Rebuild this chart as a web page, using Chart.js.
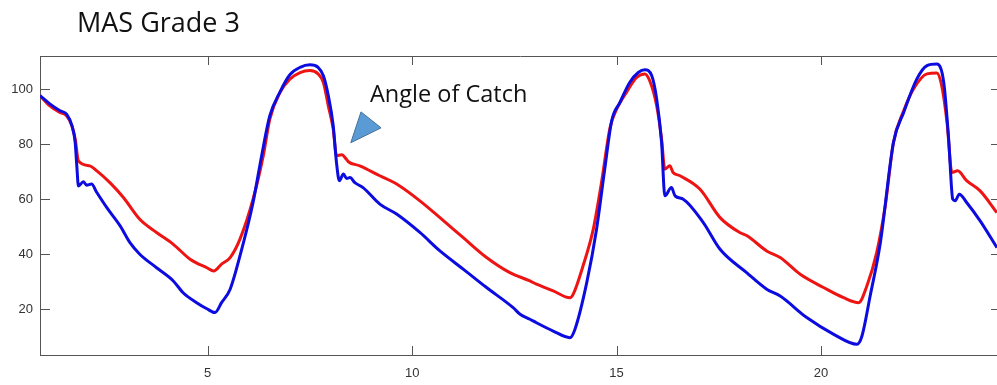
<!DOCTYPE html>
<html>
<head>
<meta charset="utf-8">
<script src="https://cdn.jsdelivr.net/npm/chart.js@4.4.1/dist/chart.umd.min.js"></script>
<style>
  html, body { margin: 0; padding: 0; background: #fff; overflow: hidden; }
  #wrap { width: 997px; height: 385px; overflow: hidden; }
</style>
</head>
<body>
<div id="wrap"><canvas id="angleChart" width="1010" height="385"></canvas></div>
<script>
// Curva vermelha (tempo, ângulo)
const redX = [0.90, 1.14, 1.39, 1.55, 1.68, 1.76, 1.84, 2.12, 2.29, 2.61, 2.94, 3.34, 3.75, 4.16, 4.57, 4.98, 5.15, 5.34, 5.55, 5.79, 6.11, 6.36, 6.52, 6.77, 7.01, 7.26, 7.50, 7.70, 7.83, 7.95, 8.07, 8.15, 8.28, 8.36, 8.44, 8.72, 9.21, 9.62, 10.19, 10.68, 11.25, 11.82, 12.39, 12.88, 13.04, 13.45, 13.86, 13.94, 14.18, 14.43, 14.63, 14.84, 15.00, 15.24, 15.49, 15.69, 15.81, 15.98, 16.10, 16.18, 16.30, 16.38, 16.55, 17.04, 17.53, 18.01, 18.19, 18.67, 19.00, 19.49, 20.06, 20.55, 20.92, 21.12, 21.36, 21.57, 21.77, 22.02, 22.26, 22.59, 22.83, 22.95, 23.08, 23.20, 23.34, 23.56, 23.89, 24.30];
const redY = [97.6, 93.9, 91.5, 90.3, 86.7, 81.9, 73.9, 72.1, 70.3, 66.0, 60.6, 52.7, 47.9, 43.6, 38.2, 35.1, 33.9, 36.4, 38.8, 45.5, 60.0, 75.8, 89.1, 98.8, 103.6, 106.0, 106.7, 105.5, 102.4, 93.9, 85.5, 75.8, 76.1, 75.1, 73.6, 72.1, 68.5, 65.5, 59.4, 53.3, 46.0, 38.8, 33.3, 30.3, 29.1, 26.7, 24.2, 25.5, 35.8, 49.1, 66.0, 86.0, 92.7, 98.8, 104.2, 105.5, 103.0, 93.9, 81.8, 70.9, 72.1, 69.7, 68.5, 63.6, 53.3, 47.9, 46.7, 41.2, 38.8, 32.7, 27.9, 24.2, 22.4, 28.5, 40.6, 57.6, 80.6, 92.1, 100.0, 105.5, 105.8, 101.2, 87.9, 69.7, 70.3, 66.7, 63.0, 55.1];

// Curva azul (tempo, ângulo)
const blueX = [0.90, 1.14, 1.39, 1.55, 1.68, 1.76, 1.80, 1.84, 1.96, 2.04, 2.16, 2.29, 2.53, 2.86, 3.10, 3.34, 3.75, 4.16, 4.40, 4.73, 4.98, 5.18, 5.34, 5.55, 5.79, 6.11, 6.32, 6.52, 6.77, 7.01, 7.26, 7.50, 7.70, 7.83, 7.95, 8.07, 8.15, 8.22, 8.32, 8.40, 8.48, 8.60, 8.80, 9.21, 9.62, 10.19, 10.68, 11.25, 11.82, 12.47, 12.64, 12.88, 13.04, 13.45, 13.86, 13.98, 14.27, 14.51, 14.71, 14.88, 15.08, 15.32, 15.53, 15.69, 15.86, 15.98, 16.10, 16.18, 16.34, 16.43, 16.63, 17.12, 17.53, 18.18, 18.67, 19.00, 19.65, 20.31, 20.88, 21.00, 21.20, 21.45, 21.77, 22.02, 22.34, 22.59, 22.83, 23.00, 23.12, 23.22, 23.28, 23.38, 23.56, 23.89, 24.30];
const blueY = [97.6, 94.6, 92.1, 90.9, 86.7, 80.6, 72.1, 64.8, 66.3, 65.1, 65.5, 62.4, 57.0, 50.3, 44.2, 40.0, 35.1, 30.3, 26.0, 22.4, 20.2, 18.8, 22.4, 27.3, 39.4, 58.8, 75.8, 90.3, 99.0, 105.2, 107.9, 108.8, 107.9, 104.8, 97.6, 86.7, 73.3, 66.7, 69.1, 67.5, 67.9, 66.0, 64.2, 58.2, 54.6, 47.9, 41.2, 34.6, 27.9, 20.6, 18.2, 16.4, 15.1, 12.1, 9.7, 12.7, 29.7, 49.1, 70.9, 88.5, 95.1, 102.4, 106.0, 107.0, 104.8, 96.4, 80.6, 61.2, 64.2, 61.2, 60.0, 51.5, 41.8, 33.3, 27.3, 24.8, 17.0, 10.9, 7.3, 10.3, 24.8, 44.2, 80.6, 91.5, 103.6, 108.5, 109.1, 102.4, 81.8, 60.0, 59.4, 61.8, 58.8, 52.1, 42.4];

// Marcas dos eixos
const xTickVals = [5, 10, 15, 20];
const yTickVals = [20, 40, 60, 80, 100];

// Textos
const chartTitle = "MAS Grade 3";
const noteText = "Angle of Catch";
const noteAt = { x: 8.97, y: 95.4 };
// Triângulo da anotação (em unidades dos eixos)
const arrowPts = [[8.50, 80.5], [8.75, 91.7], [9.24, 85.9]];

function toPoints(xs, ys) {
    return xs.map((x, i) => ({ x: x, y: ys[i] }));
}

const axisColor = "#555";

// Plugin: caixa, marcas internas, título e anotação
const extrasPlugin = {
    id: "extras",
    afterDraw(chart) {
        const c = chart.ctx;
        const a = chart.chartArea;
        const sx = chart.scales.x;
        const sy = chart.scales.y;
        c.save();
        c.strokeStyle = axisColor;
        c.lineWidth = 1;
        c.beginPath();
        // borda superior e direita
        c.moveTo(a.left, a.top + 0.5);
        c.lineTo(a.right, a.top + 0.5);
        c.moveTo(a.right - 0.5, a.top);
        c.lineTo(a.right - 0.5, a.bottom);
        // marcas do eixo x (embaixo e em cima)
        xTickVals.forEach(v => {
            const px = Math.round(sx.getPixelForValue(v)) + 0.5;
            c.moveTo(px, a.bottom);
            c.lineTo(px, a.bottom - 9);
            c.moveTo(px, a.top);
            c.lineTo(px, a.top + 9);
        });
        // marcas do eixo y (esquerda e direita)
        yTickVals.forEach(v => {
            const py = Math.round(sy.getPixelForValue(v)) + 0.5;
            c.moveTo(a.left, py);
            c.lineTo(a.left + 10, py);
            c.moveTo(a.right, py);
            c.lineTo(a.right - 10, py);
        });
        c.stroke();

        // título
        c.fillStyle = "#111";
        c.font = '27px "Open Sans"';
        c.textAlign = "left";
        c.textBaseline = "alphabetic";
        c.fillText(chartTitle, 77, 32);

        // anotação
        c.font = '23.5px "Open Sans"';
        c.fillText(noteText, sx.getPixelForValue(noteAt.x), sy.getPixelForValue(noteAt.y));

        c.beginPath();
        arrowPts.forEach((p, i) => {
            const px = sx.getPixelForValue(p[0]);
            const py = sy.getPixelForValue(p[1]);
            if (i === 0) c.moveTo(px, py); else c.lineTo(px, py);
        });
        c.closePath();
        c.fillStyle = "#5b9bd5";
        c.fill();
        c.strokeStyle = "#41719c";
        c.lineWidth = 1;
        c.stroke();
        c.restore();
    }
};

const ctx = document.getElementById("angleChart").getContext("2d");

new Chart(ctx, {
    type: "line",
    data: {
        datasets: [
            {
                label: "blue",
                data: toPoints(blueX, blueY),
                borderColor: "rgb(12, 12, 225)",
                borderWidth: 3,
                pointRadius: 0,
                cubicInterpolationMode: "monotone",
                fill: false
            },
            {
                label: "red",
                data: toPoints(redX, redY),
                borderColor: "rgb(238, 20, 20)",
                borderWidth: 3,
                pointRadius: 0,
                cubicInterpolationMode: "monotone",
                fill: false
            }
        ]
    },
    options: {
        responsive: false,
        animation: false,
        layout: { padding: { top: 56, right: 9, left: 0, bottom: 0 } },
        plugins: {
            legend: { display: false },
            tooltip: { enabled: false }
        },
        scales: {
            x: {
                type: "linear",
                min: 0.9,
                max: 24.4,
                afterBuildTicks: s => { s.ticks = xTickVals.map(v => ({ value: v })); },
                afterFit: s => { s.height = 30; },
                grid: { display: false, drawTicks: false },
                border: { display: true, color: axisColor, width: 1 },
                ticks: {
                    padding: 11,
                    color: "#333",
                    font: { family: '"Liberation Sans", Arial', size: 13 },
                    maxRotation: 0
                }
            },
            y: {
                type: "linear",
                min: 3.4,
                max: 112,
                afterBuildTicks: s => { s.ticks = yTickVals.map(v => ({ value: v })); },
                afterFit: s => { s.width = 40; },
                grid: { display: false, drawTicks: false },
                border: { display: true, color: axisColor, width: 1 },
                ticks: {
                    padding: 7,
                    color: "#333",
                    font: { family: '"Liberation Sans", Arial', size: 13 }
                }
            }
        }
    },
    plugins: [extrasPlugin]
});
</script>
</body>
</html>
